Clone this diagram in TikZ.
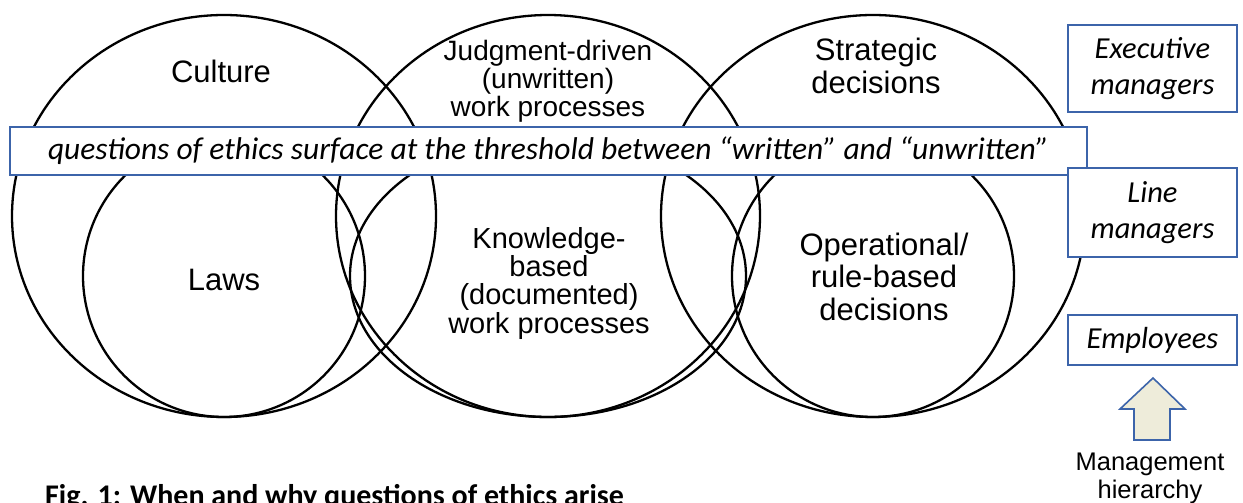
\documentclass[tikz,border=0pt]{standalone}
\usepackage{fontspec}
\setmainfont{Liberation Sans}
\newfontfamily\calibri{Carlito}
\definecolor{cadre}{RGB}{60,100,170}
\definecolor{beige}{RGB}{238,236,218}

\begin{document}
\begin{tikzpicture}[x=1pt,y=-1pt,
	cercle/.style={line width=2.3pt},
	boite/.style={draw=cadre, line width=1.6pt, fill=white},
	gros/.style={font=\fontsize{31}{32.5}\selectfont, align=center, anchor=base},
	moyen/.style={font=\fontsize{28}{27.5}\selectfont, align=center, anchor=base},
	cote/.style={boite, minimum width=169pt, align=center, font=\calibri\itshape\fontsize{30.5}{36}\selectfont}]
	\clip (0,0) rectangle (1243,503);

	% cercles
	\foreach \cx/\rx in {224/141, 548/198, 873/141} {
		\draw[cercle] (\cx,216) ellipse [x radius=212, y radius=201];
		\draw[cercle] (\cx,276) ellipse [x radius=\rx, y radius=141];
	}

	% textes (ancre sur la derniere ligne)
	\node[gros] (culture) at (221,82) {Culture};
	\node[gros] (laws) at (224,290) {Laws};
	\node[moyen] (jugement) at (548,116) {Judgment-driven\\(unwritten)\\work processes};
	\node[moyen, font=\fontsize{29}{28.3}\selectfont] (savoir) at (549,333) {Knowledge-\\based\\(documented)\\work processes};
	\node[gros] (strategie) at (876,93) {Strategic\\decisions};
	\node[gros] (operation) at (884,320) {Operational/\\rule-based\\decisions};

	% bandeau
	\node[boite, minimum width=1077pt, minimum height=48pt, inner sep=0, font=\calibri\itshape\fontsize{31.5}{32}\selectfont] (seuil) at (548.5,151) {questions of ethics surface at the threshold between “written” and “unwritten”};

	% hierarchie
	\node[cote, minimum height=87pt] (executif) at (1152.5,68.5) {Executive\\managers};
	\node[cote, minimum height=89pt] (ligne) at (1152.5,212.5) {Line\\managers};
	\node[cote, minimum height=50pt] (employes) at (1152.5,340) {Employees};

	% fleche
	\draw[boite, fill=beige] (1153,378) -- (1185,409) -- (1170,409) -- (1170,440) -- (1134,440) -- (1134,409) -- (1120,409) -- cycle;
	\node[font=\fontsize{25.5}{28}\selectfont, align=center, anchor=base] (hierarchie) at (1150,498) {Management\\hierarchy};

	\node[font=\calibri\bfseries\fontsize{30}{30}\selectfont, anchor=base west, inner sep=0] (legende) at (45,505) {Fig. 1: When and why questions of ethics arise};
\end{tikzpicture}
\end{document}
